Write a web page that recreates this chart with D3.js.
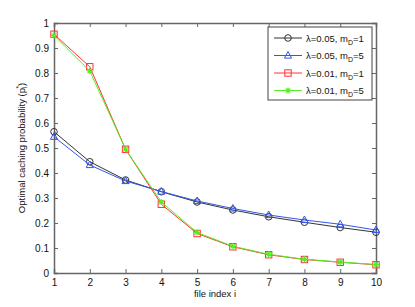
<!DOCTYPE html>
<html>
<head>
<meta charset="utf-8">
<script src="https://cdn.jsdelivr.net/npm/d3@7"></script>
<style>
  body { margin: 0; background: #fff; }
  text { font-family: "Liberation Sans", Arial, sans-serif; }
</style>
</head>
<body>
<svg id="chart" width="415" height="307"></svg>
<script>
const fileIndex = [1, 2, 3, 4, 5, 6, 7, 8, 9, 10]
const lam005m1 = [0.565, 0.445, 0.372, 0.325, 0.284, 0.252, 0.225, 0.203, 0.182, 0.163]
const lam005m5 = [0.545, 0.432, 0.368, 0.326, 0.288, 0.258, 0.232, 0.212, 0.195, 0.172]
const lam001m1 = [0.955, 0.825, 0.495, 0.275, 0.158, 0.105, 0.073, 0.054, 0.043, 0.033]
const lam001m5 = [0.950, 0.808, 0.495, 0.284, 0.162, 0.107, 0.075, 0.055, 0.044, 0.034]
const xTicks = [1, 2, 3, 4, 5, 6, 7, 8, 9, 10]
const yTicks = [0, 0.1, 0.2, 0.3, 0.4, 0.5, 0.6, 0.7, 0.8, 0.9, 1]

const series = [
  {name: "λ=0.05, m", sub: "D", tail: "=1", values: lam005m1, color: "#333333", marker: "circle"},
  {name: "λ=0.05, m", sub: "D", tail: "=5", values: lam005m5, color: "#3355ee", marker: "triangle"},
  {name: "λ=0.01, m", sub: "D", tail: "=1", values: lam001m1, color: "#ff3333", marker: "square"},
  {name: "λ=0.01, m", sub: "D", tail: "=5", values: lam001m5, color: "#55ee22", marker: "star"}
]

const plotL = 54, plotR = 376, plotT = 23, plotB = 273
const svg = d3.select("#chart")
const x = d3.scaleLinear().domain([1, 10]).range([plotL, plotR])
const y = d3.scaleLinear().domain([0, 1]).range([plotB, plotT])
const axisColor = "#666"

// frame + ticks (matlab style, ticks inside on all sides)
const g = svg.append("g")
g.append("g").attr("transform", `translate(0,${plotB})`)
  .call(d3.axisBottom(x).tickValues(xTicks).tickSize(-4).tickPadding(6).tickFormat(d3.format("d")))
g.append("g").attr("transform", `translate(${plotL},0)`)
  .call(d3.axisLeft(y).tickValues(yTicks).tickSize(-4).tickPadding(5).tickFormat(d => d === 0 || d === 1 ? d : d3.format(".1f")(d)))
g.append("g").attr("transform", `translate(0,${plotT})`)
  .call(d3.axisTop(x).tickValues(xTicks).tickSize(-4).tickFormat(""))
g.append("g").attr("transform", `translate(${plotR},0)`)
  .call(d3.axisRight(y).tickValues(yTicks).tickSize(-4).tickFormat(""))
g.selectAll(".domain").attr("stroke", axisColor).attr("stroke-width", 1.5)
g.selectAll(".tick line").attr("stroke", axisColor)
g.selectAll(".tick text").attr("fill", "#111").style("font-size", "10px")
  .style("font-family", "Liberation Sans, Arial, sans-serif")

function drawMarker(sel, type, color) {
  if (type === "circle") {
    sel.append("circle").attr("r", 3.3).attr("fill", "none").attr("stroke", color)
  } else if (type === "triangle") {
    sel.append("path").attr("d", "M0,-4L3.6,2.6L-3.6,2.6Z").attr("fill", "none").attr("stroke", color)
  } else if (type === "square") {
    sel.append("rect").attr("x", -3.2).attr("y", -3.2).attr("width", 6.4).attr("height", 6.4)
      .attr("fill", "none").attr("stroke", color)
  } else {
    sel.append("path").attr("d", "M-3,0H3M0,-3V3M-2.2,-2.2L2.2,2.2M-2.2,2.2L2.2,-2.2")
      .attr("stroke", color).attr("stroke-width", 1.2)
  }
}

const line = d3.line().x((d, i) => x(fileIndex[i])).y(d => y(d))
series.forEach(s => {
  svg.append("path").datum(s.values).attr("d", line)
    .attr("fill", "none").attr("stroke", s.color).attr("stroke-width", 1)
  svg.append("g").selectAll("g").data(s.values).join("g")
    .attr("transform", (d, i) => `translate(${x(fileIndex[i])},${y(d)})`)
    .each(function () { drawMarker(d3.select(this), s.marker, s.color) })
})

// legend
const lg = svg.append("g").attr("transform", "translate(268,27)")
lg.append("rect").attr("width", 104).attr("height", 73).attr("fill", "#fff")
  .attr("stroke", "#444").attr("stroke-width", 1)
series.forEach((s, i) => {
  const row = lg.append("g").attr("transform", `translate(0,${11 + i * 17.5})`)
  row.append("line").attr("x1", 6).attr("x2", 34).attr("stroke", s.color)
  drawMarker(row.append("g").attr("transform", "translate(20,0)"), s.marker, s.color)
  const t = row.append("text").attr("x", 38).attr("y", 3.5).style("font-size", "9.5px").attr("fill", "#111")
  t.append("tspan").text(s.name)
  t.append("tspan").attr("dy", 3).style("font-size", "7px").text(s.sub)
  t.append("tspan").attr("dy", -3).text(s.tail)
})

// axis labels
svg.append("text").attr("x", (plotL + plotR) / 2).attr("y", 297).attr("text-anchor", "middle")
  .style("font-size", "9.5px").attr("fill", "#111").text("file index i")
const yl = svg.append("text").attr("transform", `translate(25,${(plotT + plotB) / 2}) rotate(-90)`)
  .attr("text-anchor", "middle").style("font-size", "9.5px").attr("fill", "#111")
yl.append("tspan").text("Optimal caching probability (p")
yl.append("tspan").attr("dy", 2).style("font-size", "6.5px").text("i")
yl.append("tspan").attr("dy", -6).attr("dx", -2).style("font-size", "6.5px").text("*")
yl.append("tspan").attr("dy", 4).text(")")
</script>
</body>
</html>
